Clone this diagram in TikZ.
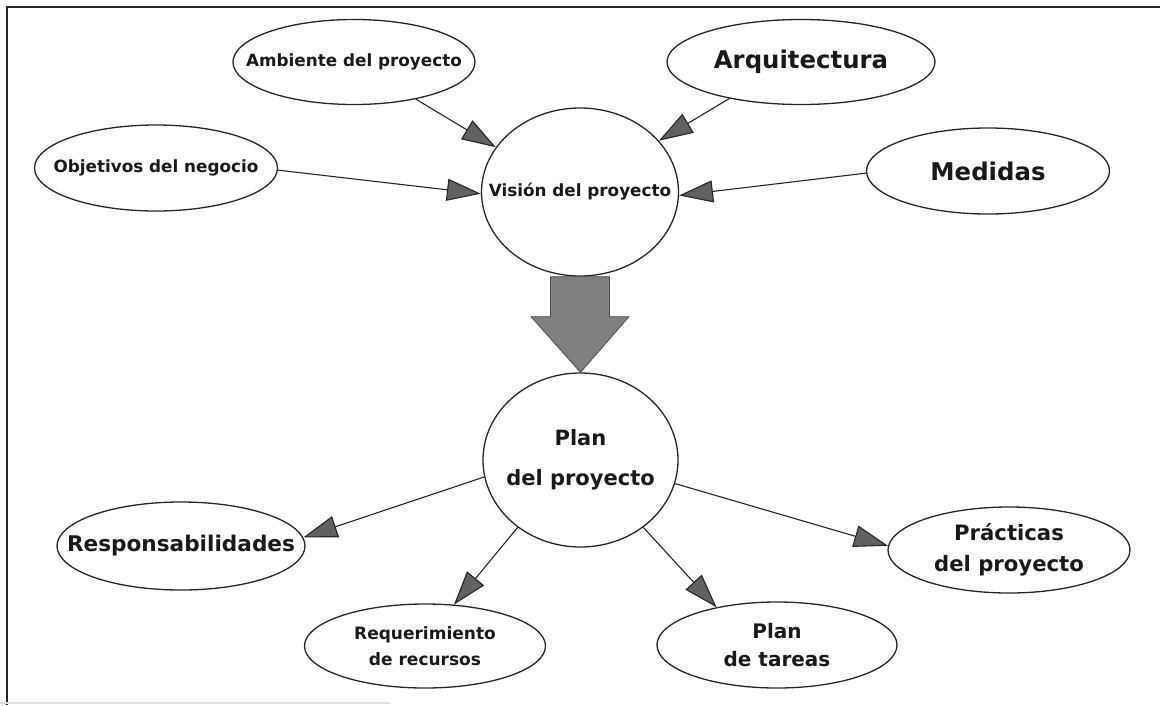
\documentclass[tikz,border=0pt]{standalone}
\usepackage{fontspec}
\setmainfont{DejaVu Sans}
\usetikzlibrary{shapes.geometric,arrows.meta,calc}

\begin{document}
\begin{tikzpicture}[x=1pt,y=-1pt,
  oval/.style={ellipse, draw=black!85, line width=1.3pt, inner sep=0pt},
  txt/.style={align=center, text=black!90, inner sep=0pt},
  fsmall/.style={font=\bfseries\fontsize{16.8}{20}\selectfont},
  fbig/.style={font=\bfseries\fontsize{24.4}{28}\selectfont},
  conn/.style={draw=black!85, line width=1.1pt,
    -{Triangle[length=34pt,width=22pt,fill=black!62]}},
  bigarrow/.style={fill=black!50, draw=black!70, line width=0.8pt},
  frameline/.style={draw=black!85, line width=2pt}
]
\useasboundingbox (0,0) rectangle (1160,705);

% outer frame (left and top edges) and faint bottom rule
\draw[frameline] (7,705) -- (7,7) -- (1160,7);
\draw[black!12, line width=1.5pt] (0,703) -- (390,703);

% inputs to the project vision
\node[oval, minimum width=242pt, minimum height=85pt,
  label={[txt,fsmall]center:Ambiente del proyecto}] (amb) at (354,62) {};
\node[oval, minimum width=243pt, minimum height=86pt,
  label={[txt,fsmall]center:Objetivos del negocio}] (obj) at (156,168) {};
\node[oval, minimum width=268pt, minimum height=85pt,
  label={[txt,fbig]center:Arquitectura}] (arq) at (801,62) {};
\node[oval, minimum width=243pt, minimum height=86pt,
  label={[txt,fbig]center:Medidas}] (med) at (988,171) {};

% central vision and plan
\node[oval, minimum width=197pt, minimum height=168pt,
  label={[txt,fsmall]center:Visión del proyecto}] (vis) at (580,192) {};
\node[oval, minimum width=195pt, minimum height=174pt,
  label={[txt,font=\bfseries\fontsize{21}{40}\selectfont]center:{Plan\\del proyecto}}] (plan) at (580.5,460) {};

% outputs of the plan
\node[oval, minimum width=248pt, minimum height=88pt,
  label={[txt,font=\bfseries\fontsize{21.6}{26}\selectfont]center:Responsabilidades}] (resp) at (181,546) {};
\node[oval, minimum width=241pt, minimum height=84pt,
  label={[txt,font=\bfseries\fontsize{17}{26}\selectfont]center:{Requerimiento\\de recursos}}] (req) at (425,646) {};
\node[oval, minimum width=240pt, minimum height=86pt,
  label={[txt,font=\bfseries\fontsize{20}{28}\selectfont]center:{Plan\\de tareas}}] (tar) at (777,645) {};
\node[oval, minimum width=242pt, minimum height=86pt,
  label={[txt,font=\bfseries\fontsize{21.2}{31}\selectfont]center:{Prácticas\\del proyecto}}] (pra) at (1009,550) {};

% thin arrows into the vision
\draw[conn] (obj.359) -- (vis.181);
\draw[conn] (amb.329) -- (vis.152);
\draw[conn] (arq.207) -- (vis.33);
\draw[conn] (med.181) -- (vis.358);

% thick arrow from vision to plan
\coordinate (a0) at (vis.south);
\coordinate (a1) at (plan.north);
\filldraw[bigarrow] ($(a0)+(-29.5,0)$) -- ($(a0)+(29.5,0)$) -- ($(a0)+(29.5,40)$)
  -- ($(a0)+(49,40)$) -- (a1) -- ($(a0)+(-49,40)$) -- ($(a0)+(-29.5,40)$) -- cycle;

% thin arrows out of the plan
\draw[conn] (plan.190.5) -- (resp.4);
\draw[conn] (plan.227.6) -- (req.55);
\draw[conn] (plan.313) -- (tar.148);
\draw[conn] (plan.346) -- (pra.178.6);
\end{tikzpicture}
\end{document}
